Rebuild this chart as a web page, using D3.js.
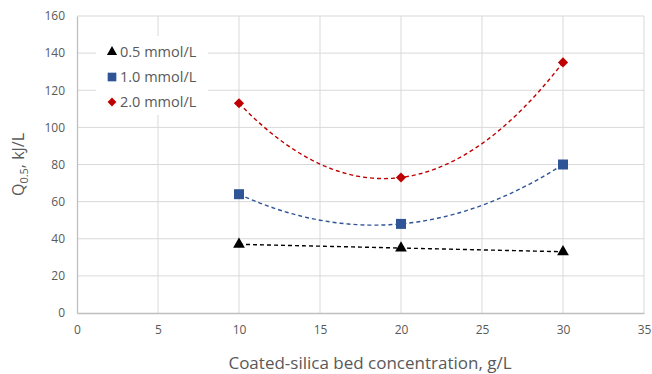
<!DOCTYPE html>
<html>
<head>
<meta charset="utf-8">
<script src="https://cdn.jsdelivr.net/npm/d3@7"></script>
<style>
  body { margin: 0; background: #fff; }
  svg text { font-family: "Open Sans", "Liberation Sans", sans-serif; fill: #595959; }
</style>
</head>
<body>
<div id="chart"></div>
<script>
const concentrations = [10, 20, 30];
const series = [
  { name: '0.5 mmol/L', values: [37, 35, 33], color: '#000000', shape: 'triangle', fit: 1 },
  { name: '1.0 mmol/L', values: [64, 48, 80], color: '#2f5597', shape: 'square', fit: 2 },
  { name: '2.0 mmol/L', values: [113, 73, 135], color: '#c00000', shape: 'diamond', fit: 2 }
];
const xTicks = [0, 5, 10, 15, 20, 25, 30, 35];
const yTicks = [0, 20, 40, 60, 80, 100, 120, 140, 160];

const width = 652;
const height = 374;
const margin = { top: 16, right: 8, bottom: 61, left: 77 };

// least squares polynomial fit (degree 1 or 2) of the points
function polyFit(xs, ys, deg) {
  const n = deg + 1;
  const A = [];
  for (let i = 0; i < n; i++) {
    A.push([]);
    for (let j = 0; j < n; j++) A[i].push(d3.sum(xs, (x) => Math.pow(x, i + j)));
    A[i].push(d3.sum(xs, (x, k) => ys[k] * Math.pow(x, i)));
  }
  for (let i = 0; i < n; i++) {
    for (let k = i + 1; k < n; k++) {
      const f = A[k][i] / A[i][i];
      for (let j = i; j <= n; j++) A[k][j] -= f * A[i][j];
    }
  }
  const c = new Array(n).fill(0);
  for (let i = n - 1; i >= 0; i--) {
    let s = A[i][n];
    for (let j = i + 1; j < n; j++) s -= A[i][j] * c[j];
    c[i] = s / A[i][i];
  }
  return (x) => c.reduce((acc, ci, i) => acc + ci * Math.pow(x, i), 0);
}

function marker(sel, shape, scale) {
  if (shape === 'triangle') {
    sel.attr('d', d3.symbol().type(d3.symbolTriangle).size(60 * scale));
  } else if (shape === 'square') {
    sel.attr('d', d3.symbol().type(d3.symbolSquare).size(100 * scale));
  } else {
    sel.attr('d', d3.symbol().type(d3.symbolSquare).size(52 * scale))
      .attr('transform', (d, i, n) => (n[i].getAttribute('transform') || '') + ' rotate(45)');
  }
}

const svg = d3.select('#chart').append('svg')
  .attr('width', width)
  .attr('height', height);

const xScale = d3.scaleLinear().domain([0, 35]).range([margin.left, width - margin.right]);
const yScale = d3.scaleLinear().domain([0, 160]).range([height - margin.bottom, margin.top]);

// gridlines
svg.append('g')
  .selectAll('line')
  .data(yTicks.slice(1))
  .join('line')
  .attr('x1', xScale(0)).attr('x2', xScale(35))
  .attr('y1', (d) => yScale(d)).attr('y2', (d) => yScale(d))
  .attr('stroke', '#d9d9d9').attr('stroke-width', 1);

svg.append('g')
  .selectAll('line')
  .data(xTicks.slice(1))
  .join('line')
  .attr('x1', (d) => xScale(d)).attr('x2', (d) => xScale(d))
  .attr('y1', yScale(0)).attr('y2', yScale(160))
  .attr('stroke', '#d9d9d9').attr('stroke-width', 1);

// axes
const xAxis = svg.append('g')
  .attr('transform', `translate(0, ${yScale(0)})`)
  .call(d3.axisBottom(xScale).tickValues(xTicks).tickSize(0).tickPadding(12));
const yAxis = svg.append('g')
  .attr('transform', `translate(${xScale(0)}, 0)`)
  .call(d3.axisLeft(yScale).tickValues(yTicks).tickSize(0).tickPadding(12));

[xAxis, yAxis].forEach((g) => {
  g.select('.domain').attr('stroke', '#bfbfbf').attr('stroke-width', 1.3);
  g.selectAll('text').attr('font-size', 12).attr('fill', '#595959')
    .attr('font-family', '"Open Sans", sans-serif');
});

// trendlines
const line = d3.line().x((d) => xScale(d[0])).y((d) => yScale(d[1]));
series.forEach((s) => {
  const f = polyFit(concentrations, s.values, s.fit);
  const pts = d3.range(10, 30.01, 0.25).map((x) => [x, f(x)]);
  svg.append('path')
    .datum(pts)
    .attr('d', line)
    .attr('fill', 'none')
    .attr('stroke', s.color)
    .attr('stroke-width', 1.4)
    .attr('stroke-dasharray', '4,3');
});

// markers
series.forEach((s) => {
  svg.append('g')
    .selectAll('path')
    .data(s.values)
    .join('path')
    .attr('transform', (d, i) => `translate(${xScale(concentrations[i])}, ${yScale(d)})`)
    .attr('fill', s.color)
    .call(marker, s.shape, 1);
});

// legend
const legend = svg.append('g').attr('transform', 'translate(96, 36)');
legend.append('rect').attr('width', 112).attr('height', 79).attr('fill', '#fff');
series.forEach((s, i) => {
  const row = legend.append('g').attr('transform', `translate(16, ${16 + i * 25})`);
  row.append('path')
    .attr('fill', s.color)
    .call(marker, s.shape, 0.75);
  row.append('text')
    .attr('x', 8).attr('y', 5)
    .attr('font-size', 14.5)
    .text(s.name);
});

// axis titles
svg.append('text')
  .attr('x', 370).attr('y', 369)
  .attr('text-anchor', 'middle')
  .attr('font-size', 17)
  .text('Coated-silica bed concentration, g/L');

const yTitle = svg.append('text')
  .attr('transform', `translate(24, ${yScale(80)}) rotate(-90)`)
  .attr('text-anchor', 'middle')
  .attr('font-size', 16);
yTitle.append('tspan').text('Q');
yTitle.append('tspan').attr('font-size', 11).attr('dy', 4).text('0.5');
yTitle.append('tspan').attr('dy', -4).text(', kJ/L');
</script>
</body>
</html>
